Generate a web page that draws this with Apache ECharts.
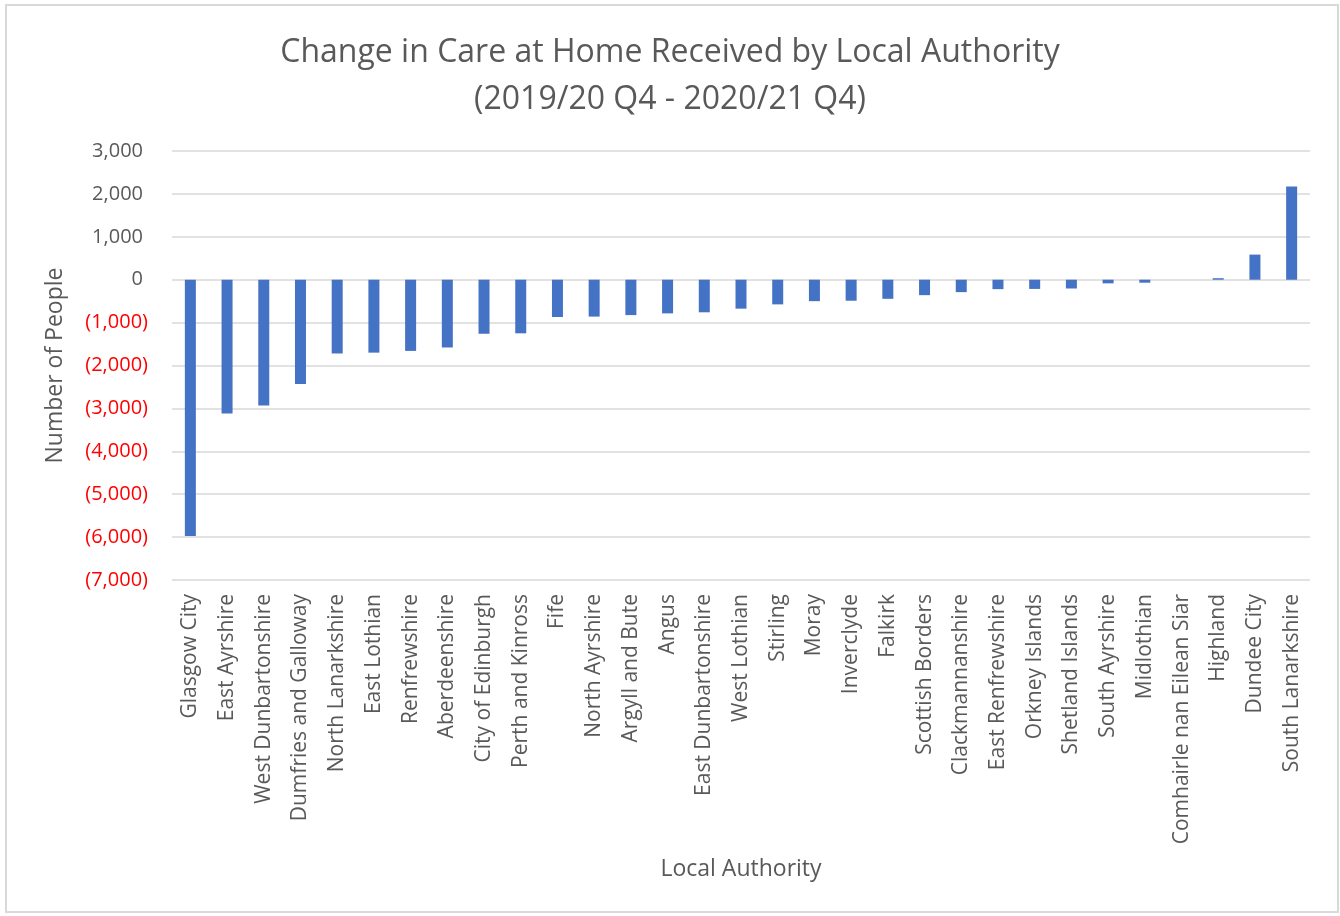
<!DOCTYPE html>
<html>
<head>
<meta charset="utf-8">
<title>Change in Care at Home</title>
<script src="https://cdn.jsdelivr.net/npm/echarts@6/dist/echarts.min.js"></script>
<style>
  html, body { margin: 0; padding: 0; background: #fff; }
  #chart { width: 1340px; height: 916px; }
</style>
</head>
<body>
<div id="chart"></div>
<script>
var authorities = [
  "Glasgow City", "East Ayrshire", "West Dunbartonshire", "Dumfries and Galloway",
  "North Lanarkshire", "East Lothian", "Renfrewshire", "Aberdeenshire",
  "City of Edinburgh", "Perth and Kinross", "Fife", "North Ayrshire",
  "Argyll and Bute", "Angus", "East Dunbartonshire", "West Lothian", "Stirling",
  "Moray", "Inverclyde", "Falkirk", "Scottish Borders", "Clackmannanshire",
  "East Renfrewshire", "Orkney Islands", "Shetland Islands", "South Ayrshire",
  "Midlothian", "Comhairle nan Eilean Siar", "Highland", "Dundee City",
  "South Lanarkshire"
];
var changeInPeople = [
  -5975, -3120, -2930, -2430, -1720, -1700, -1660, -1580, -1260, -1250,
  -870, -860, -825, -785, -760, -675, -575, -500, -490, -445, -360, -290,
  -220, -215, -205, -85, -70, 0, 35, 585, 2170
];
var yMin = -7000, yMax = 3000, yStep = 1000;

var textColor = "#595959";
var font = "'Open Sans', 'Noto Sans', sans-serif";

var myChart = echarts.init(document.getElementById("chart"));

var option = {
  backgroundColor: "#fff",
  animation: false,
  title: {
    text: "Change in Care at Home Received by Local Authority\n(2019/20 Q4 - 2020/21 Q4)",
    left: "center",
    top: 24,
    textStyle: {
      fontFamily: font,
      fontSize: 32,
      fontWeight: "normal",
      color: textColor,
      lineHeight: 47
    }
  },
  graphic: [{
    type: "rect",
    shape: { x: 6, y: 5, width: 1332, height: 907 },
    style: { fill: "none", stroke: "#d9d9d9", lineWidth: 2 },
    silent: true
  }],
  grid: {
    left: 172,
    right: 30,
    top: 151,
    bottom: 336
  },
  xAxis: {
    type: "category",
    data: authorities,
    axisLine: { show: false, onZero: false },
    axisTick: { show: false },
    axisLabel: {
      interval: 0,
      rotate: 90,
      margin: 14,
      fontFamily: font,
      fontSize: 21,
      color: textColor
    },
    name: "Local Authority",
    nameLocation: "middle",
    nameGap: 278,
    nameTextStyle: { fontFamily: font, fontSize: 23, color: textColor }
  },
  yAxis: {
    type: "value",
    min: yMin,
    max: yMax,
    interval: yStep,
    axisLine: { show: false },
    axisTick: { show: false },
    splitLine: { lineStyle: { color: "#d9d9d9", width: 1.5 } },
    axisLabel: {
      margin: 24,
      fontFamily: font,
      fontSize: 20,
      formatter: function (v) {
        var s = Math.abs(v).toLocaleString("en-US");
        if (v < 0) return "{neg|(" + s + ")}";
        return "{pos|" + s + "}";
      },
      rich: {
        neg: { color: "#ff0000", fontFamily: font, fontSize: 20 },
        pos: { color: textColor, fontFamily: font, fontSize: 20, padding: [0, 5, 0, 0] }
      }
    },
    name: "Number of People",
    nameLocation: "middle",
    nameGap: 105,
    nameTextStyle: { fontFamily: font, fontSize: 23, color: textColor }
  },
  series: [{
    name: "Change",
    type: "bar",
    data: changeInPeople,
    barWidth: 11,
    itemStyle: { color: "#4472c4" }
  }]
};

myChart.setOption(option);
</script>
</body>
</html>
